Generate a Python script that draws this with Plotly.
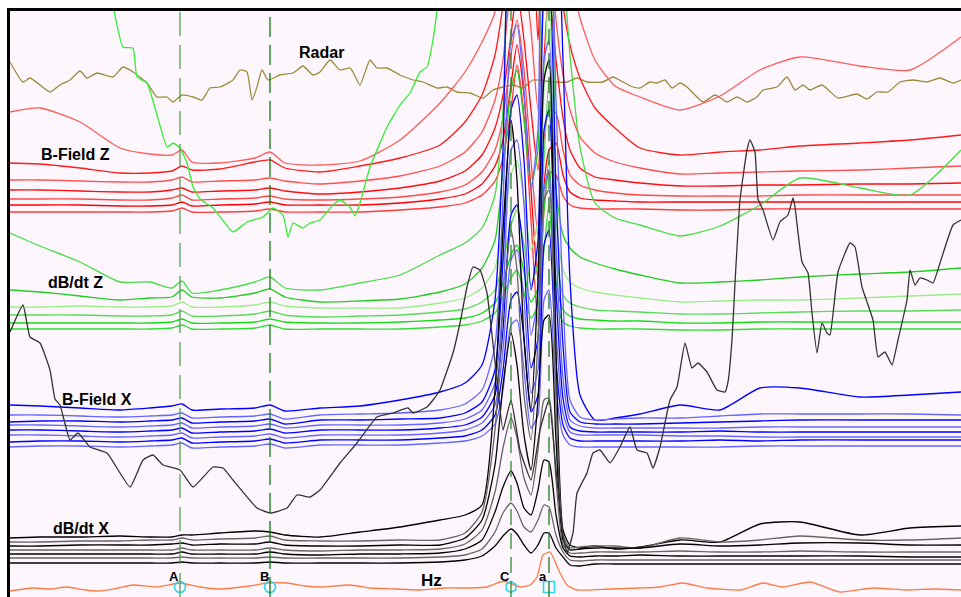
import plotly.graph_objects as go

# ---------------------------------------------------------------
# Stacked EM profile display: stations along the line (x) and
# channel responses plotted as offset traces (y, increasing downward)
# ---------------------------------------------------------------

# common station grid for the multi-channel groups
station = [10, 40, 80, 120, 150, 172, 182, 192, 220, 255, 270, 285, 320, 360, 400,
           440, 465, 482, 495, 503, 511, 517, 524, 531, 538, 544, 549, 556, 563, 570,
           580, 595, 615, 640, 680, 720, 760, 800, 860, 910, 961]

# B-Field Z (7 channels)
bz_ch1 = [112, 108, 122, 148, 154, 155, 150, 162, 163, 158, 152, 163, 165, 161, 140,
          103, 72, 42, 12, -60, -60, -60, -60, -60, -20, -60, -60, -60, -60, -30,
          18, 60, 86, 97, 110, 96, 70, 57, 66, 70, 37]
bz_ch2 = [163, 164, 168, 173, 173, 171, 166, 170, 169, 162, 160, 168, 172, 166, 158,
          145, 122, 95, 55, 5, -60, -60, -60, -60, 40, -60, -60, -60, 5, 45,
          78, 108, 128, 148, 155, 152, 150, 146, 143, 140, 135]
bz_ch3 = [180, 180, 181, 182, 182, 180, 177, 182, 181, 180, 178, 181, 184, 181, 176,
          166, 152, 132, 100, 60, -20, -60, -30, 30, 110, -20, -60, 20, 75, 110,
          137, 153, 162, 168, 174, 173, 172, 171, 170, 168, 166]
bz_ch4 = [190, 190, 191, 192, 192, 190, 188, 192, 191, 190, 188, 191, 194, 192, 188,
          181, 171, 155, 128, 95, 35, -10, 40, 110, 170, 60, -10, 60, 118, 150,
          168, 177, 180, 183, 186, 186, 185, 185, 184, 184, 183]
bz_ch5 = [199, 199, 199, 200, 200, 198, 195, 200, 199, 198, 196, 199, 200, 199, 197,
          192, 185, 172, 150, 118, 55, 20, 70, 160, 235, 140, 110, 113, 150, 175,
          185, 190, 193, 195, 196, 196, 196, 195, 195, 195, 195]
bz_ch6 = [205, 205, 205, 206, 206, 205, 202, 206, 205, 204, 202, 205, 205, 205, 203,
          199, 194, 184, 166, 140, 85, 45, 95, 190, 280, 185, 150, 143, 175, 192,
          198, 200, 201, 202, 202, 202, 202, 202, 202, 202, 202]
bz_ch7 = [212, 212, 212, 212, 212, 211, 208, 212, 212, 211, 209, 212, 212, 212, 210,
          207, 203, 195, 181, 158, 110, 65, 115, 220, 325, 210, 172, 175, 196, 205,
          208, 209, 209, 209, 210, 210, 209, 209, 209, 209, 209]

# dB/dt Z (6 channels)
dz_ch1 = [233, 246, 262, 282, 282, 288, 281, 293, 290, 282, 277, 288, 290, 283, 275,
          255, 243, 228, 195, 110, -60, -60, -60, -60, -60, -60, -60, -60, -30, 55,
          147, 203, 218, 225, 236, 226, 205, 178, 188, 195, 150]
dz_ch2 = [290, 292, 296, 300, 298, 297, 290, 297, 298, 293, 289, 297, 302, 301, 299,
          292, 284, 268, 240, 170, 90, 70, 120, 185, 150, -60, -60, 190, 235, 248,
          257, 263, 269, 275, 283, 282, 280, 277, 274, 272, 268]
dz_ch3 = [307, 307, 306, 307, 307, 306, 302, 307, 307, 305, 302, 306, 308, 308, 308,
          303, 298, 288, 268, 225, 175, 160, 200, 250, 220, 90, -20, 220, 270, 282,
          288, 292, 295, 298, 302, 301, 300, 300, 298, 296, 294]
dz_ch4 = [315, 315, 315, 316, 316, 315, 311, 316, 316, 314, 311, 315, 317, 316, 315,
          312, 309, 302, 290, 262, 225, 210, 245, 285, 262, 160, 80, 250, 295, 303,
          307, 310, 311, 312, 314, 314, 313, 312, 311, 311, 310]
dz_ch5 = [323, 323, 323, 323, 323, 322, 319, 323, 323, 322, 319, 322, 323, 323, 322,
          320, 318, 313, 303, 283, 255, 245, 272, 302, 288, 210, 160, 282, 310, 316,
          319, 320, 321, 321, 323, 323, 322, 322, 322, 322, 322]
dz_ch6 = [329, 329, 329, 329, 329, 328, 325, 329, 329, 328, 325, 329, 329, 329, 329,
          327, 325, 321, 313, 297, 278, 270, 292, 318, 305, 250, 205, 300, 322, 326,
          328, 329, 329, 329, 330, 330, 329, 329, 329, 329, 329]

# B-Field X (8 channels)
bx_ch1 = [405, 406, 408, 410, 408, 406, 404, 410, 409, 408, 405, 411, 408, 406, 400,
          392, 383, 365, 300, 150, -60, -60, -60, -20, -60, -60, -60, -60, 60, 280,
          395, 420, 418, 414, 405, 410, 388, 388, 397, 395, 392]
bx_ch2 = [415, 415, 416, 417, 416, 415, 413, 418, 417, 416, 414, 419, 415, 414, 413,
          410, 404, 390, 345, 200, 40, 25, 90, 190, 130, -60, -60, 100, 300, 400,
          417, 420, 419, 418, 418, 416, 414, 414, 414, 414, 415]
bx_ch3 = [422, 421, 421, 422, 421, 420, 418, 423, 422, 421, 419, 424, 420, 420, 419,
          418, 413, 402, 370, 260, 110, 95, 160, 290, 240, -10, -30, 190, 345, 412,
          422, 424, 424, 424, 423, 422, 421, 420, 420, 420, 420]
bx_ch4 = [425, 425, 426, 427, 426, 425, 423, 428, 427, 426, 424, 428, 425, 425, 425,
          423, 419, 410, 383, 300, 150, 140, 205, 335, 295, 60, 40, 245, 378, 420,
          426, 428, 428, 428, 428, 428, 427, 427, 427, 427, 427]
bx_ch5 = [430, 430, 431, 432, 431, 430, 428, 433, 432, 431, 429, 433, 430, 430, 430,
          428, 425, 417, 395, 330, 215, 205, 260, 368, 338, 130, 110, 290, 398, 427,
          431, 432, 432, 432, 432, 431, 432, 432, 432, 432, 432]
bx_ch6 = [435, 435, 436, 437, 436, 435, 433, 438, 437, 436, 434, 438, 435, 435, 435,
          433, 430, 423, 405, 350, 260, 250, 300, 393, 370, 190, 170, 330, 413, 432,
          435, 435, 435, 435, 436, 436, 437, 437, 437, 437, 437]
bx_ch7 = [442, 441, 441, 442, 441, 440, 438, 443, 442, 441, 439, 443, 440, 440, 440,
          438, 436, 430, 415, 370, 300, 292, 338, 412, 395, 245, 230, 362, 425, 438,
          441, 441, 441, 441, 441, 440, 441, 440, 440, 440, 440]
bx_ch8 = [447, 446, 446, 447, 446, 445, 443, 448, 447, 446, 444, 448, 445, 445, 445,
          443, 441, 436, 424, 390, 325, 320, 370, 428, 415, 300, 290, 390, 435, 445,
          447, 447, 447, 447, 447, 447, 446, 446, 446, 446, 446]

# dB/dt X (7 channels)
dx_ch1 = [538, 537, 537, 536, 537, 537, 535, 535, 533, 531, 532, 535, 537, 532, 527,
          520, 515, 505, 390, 230, 120, 180, 340, 410, 280, 80, 60, 350, 530, 545,
          548, 546, 549, 547, 540, 542, 524, 522, 535, 528, 526]
dx_ch2 = [542, 542, 541, 541, 540, 540, 538, 540, 539, 538, 536, 540, 541, 541, 540,
          540, 533, 512, 430, 310, 230, 270, 395, 440, 340, 200, 190, 400, 535, 548,
          547, 546, 546, 548, 538, 542, 540, 536, 540, 540, 538]
dx_ch3 = [546, 546, 545, 545, 545, 544, 543, 545, 544, 544, 542, 545, 546, 546, 545,
          545, 538, 520, 465, 385, 333, 365, 435, 470, 400, 320, 315, 440, 540, 550,
          549, 548, 548, 548, 544, 546, 545, 543, 543, 545, 545]
dx_ch4 = [550, 550, 550, 550, 550, 550, 548, 550, 550, 550, 548, 550, 551, 550, 550,
          549, 544, 530, 492, 448, 418, 438, 478, 495, 450, 400, 398, 480, 545, 553,
          553, 552, 552, 552, 551, 552, 552, 551, 552, 552, 552]
dx_ch5 = [554, 554, 554, 554, 554, 554, 552, 554, 554, 554, 552, 554, 555, 554, 554,
          553, 549, 540, 512, 487, 471, 483, 508, 515, 490, 460, 462, 515, 548, 556,
          557, 556, 556, 555, 556, 556, 556, 556, 556, 557, 557]
dx_ch6 = [558, 558, 558, 558, 558, 558, 557, 558, 558, 558, 557, 558, 558, 558, 558,
          557, 555, 549, 532, 513, 503, 511, 527, 532, 520, 505, 507, 535, 552, 560,
          561, 560, 560, 560, 560, 560, 560, 560, 560, 560, 560]
dx_ch7 = [563, 563, 563, 563, 563, 563, 562, 563, 563, 563, 562, 563, 563, 563, 563,
          562, 560, 556, 546, 536, 529, 534, 545, 553, 545, 533, 533, 548, 557, 565,
          566, 564, 564, 564, 564, 564, 564, 564, 564, 564, 564]

# high-amplitude dB/dt Z channel (own stations)
dz_hi_x = [111, 123, 133, 137, 147, 157, 167, 173, 180, 187, 193, 200, 213, 233, 247,
           263, 273, 283, 288, 293, 303, 310, 320, 333, 340, 350, 355, 360, 370, 380,
           387, 400, 410, 420, 427, 433, 439]
dz_hi_y = [-5, 47, 48, 77, 83, 115, 147, 143, 148, 163, 187, 199, 208, 232, 222,
           217, 208, 215, 237, 223, 228, 223, 220, 205, 200, 207, 216, 203, 167, 143,
           127, 105, 93, 72, 67, 40, -5]

# high-amplitude B-Field X channel (own stations)
bx_hi_x = [10, 23, 30, 40, 50, 55, 60, 70, 78, 90, 107, 130, 143, 153, 163, 180, 193,
           213, 223, 233, 257, 270, 287, 297, 310, 320, 340, 357, 377, 393, 408, 413,
           427, 433, 440, 453, 460, 467, 473, 480, 487, 490, 497, 503, 511, 520, 531,
           540, 549, 556, 563, 567, 573, 577, 587, 593, 600, 610, 620, 630, 637, 647,
           653, 660, 670, 677, 685, 692, 698, 707, 717, 725, 728, 732, 735, 740, 747,
           750, 755, 758, 763, 773, 780, 788, 793, 795, 802, 808, 812, 817, 822, 827,
           830, 838, 850, 855, 862, 873, 878, 885, 892, 898, 907, 910, 915, 920, 927,
           933, 940, 953, 961]
bx_hi_y = [332, 305, 337, 343, 370, 399, 405, 440, 433, 447, 453, 487, 460, 455, 465,
           470, 487, 467, 468, 480, 508, 513, 508, 495, 497, 490, 463, 443, 417, 413,
           408, 413, 407, 400, 390, 353, 323, 287, 267, 270, 293, 317, 380, 430, 400,
           450, 480, 430, 400, 470, 535, 553, 533, 493, 473, 453, 450, 463, 447, 427,
           450, 453, 468, 447, 400, 387, 343, 368, 363, 372, 390, 392, 382, 340, 283,
           200, 150, 140, 152, 199, 210, 240, 222, 215, 198, 207, 262, 273, 313, 353,
           323, 333, 335, 272, 243, 247, 287, 320, 357, 352, 365, 340, 300, 270, 285,
           278, 280, 283, 263, 225, 220]

# Radar
radar_x = [10, 23, 30, 40, 50, 60, 70, 80, 87, 97, 113, 123, 133, 147, 157, 167, 173,
           182, 193, 202, 210, 220, 233, 240, 247, 252, 257, 262, 268, 280, 293, 303,
           313, 320, 330, 340, 350, 353, 360, 370, 377, 387, 400, 413, 423, 437, 447,
           457, 470, 483, 493, 503, 513, 523, 533, 553, 567, 577, 587, 603, 613, 623,
           633, 640, 650, 657, 665, 672, 680, 687, 703, 715, 727, 737, 747, 757, 763,
           777, 787, 795, 803, 810, 822, 838, 857, 867, 877, 888, 900, 913, 927, 940,
           953, 961]
radar_y = [62, 82, 78, 85, 92, 85, 80, 71, 78, 73, 77, 67, 72, 83, 97, 97, 102,
           95, 97, 100, 88, 87, 80, 70, 72, 100, 87, 70, 80, 75, 73, 66,
           75, 72, 60, 70, 68, 72, 85, 60, 68, 68, 75, 80, 82, 88, 87,
           92, 93, 98, 90, 87, 85, 88, 80, 82, 82, 78, 82, 82, 77, 82,
           87, 88, 82, 83, 80, 88, 83, 87, 102, 95, 102, 97, 102, 97, 90,
           87, 77, 90, 85, 90, 85, 98, 94, 99, 92, 92, 82, 80, 82, 78,
           83, 80]

# Hz
hz_x = [10, 33, 50, 67, 85, 100, 118, 133, 157, 180, 200, 218, 233, 250, 267, 287,
        305, 320, 350, 370, 395, 420, 445, 470, 487, 500, 507, 520, 530, 537, 543,
        550, 553, 560, 567, 577, 610, 640, 660, 683, 707, 740, 763, 783, 810, 840,
        873, 907, 935, 961]
hz_y = [591, 588, 589, 587, 590, 591, 588, 585, 587, 583, 587, 589, 588, 586, 583, 583,
        586, 587, 585, 588, 589, 590, 588, 588, 587, 582, 582, 587, 585, 577, 555,
        552, 557, 573, 585, 590, 589, 588, 587, 583, 588, 590, 583, 587, 582, 592,
        588, 590, 589, 590]

# picks along the line
pick_station = [180, 270, 511, 549]
pick_label = ["A", "B", "C", "a"]
pick_symbol = ["circle-open", "circle-open", "hexagon-open", "square-open"]
pick_color = ["#55a055", "#117711", "#338833", "#227722"]
pick_dash = ["24px,9px", "20px,8px", "16px,8px", "16px,8px"]

red_shades = ["#ff5c5c", "#ff1a1a", "#ff5050", "#ff0d0d", "#ff4848", "#ff0000", "#ff3a3a"]
green_shades = ["#44dd44", "#22cc22", "#99ee88", "#55dd55", "#11dd11", "#33dd33"]
blue_shades = ["#0000ff", "#6666ff"]
black_shades = ["#000000", "#666666"]

LABEL_FONT = "Arial, Liberation Sans"

fig = go.Figure()


def add_line(x, y, color, width=1.3, smooth=None):
    line = dict(color=color, width=width)
    if smooth:
        line.update(shape="spline", smoothing=smooth)
    fig.add_trace(go.Scatter(x=x, y=y, mode="lines", hoverinfo="skip",
                             line=line, showlegend=False))


add_line(radar_x, radar_y, "#9c8b3c", smooth=0.5)
for i, ch in enumerate([bz_ch1, bz_ch2, bz_ch3, bz_ch4, bz_ch5, bz_ch6, bz_ch7]):
    add_line(station, ch, red_shades[i], smooth=0.6)
for i, ch in enumerate([dz_ch1, dz_ch2, dz_ch3, dz_ch4, dz_ch5, dz_ch6]):
    add_line(station, ch, green_shades[i], smooth=0.6)
add_line(dz_hi_x, dz_hi_y, "#33ee33", smooth=0.4)
for i, ch in enumerate([bx_ch1, bx_ch2, bx_ch3, bx_ch4, bx_ch5, bx_ch6, bx_ch7, bx_ch8]):
    add_line(station, ch, blue_shades[i % 2], smooth=0.6)
for i, ch in enumerate([dx_ch1, dx_ch2, dx_ch3, dx_ch4, dx_ch5, dx_ch6, dx_ch7]):
    add_line(station, ch, black_shades[i % 2], smooth=0.6)
add_line(bx_hi_x, bx_hi_y, "#333333", smooth=0.4)
add_line(hz_x, hz_y, "#ff7a45", smooth=0.5)

# pick lines, symbols and letters
for s, lab, col, dash in zip(pick_station, pick_label, pick_color, pick_dash):
    fig.add_vline(x=s, line=dict(color=col, width=1.3, dash=dash))
    fig.add_annotation(x=s, y=576, text=lab, showarrow=False, xshift=-6,
                       font=dict(family=LABEL_FONT, size=13, color="black", weight="bold"))

fig.add_trace(go.Scatter(x=pick_station, y=[587] * len(pick_station), mode="markers",
                         hoverinfo="skip", showlegend=False,
                         marker=dict(symbol=pick_symbol, size=11,
                                     line=dict(color="#33d6ee", width=1.6),
                                     color="#33d6ee")))

group_labels = [("Radar", 321, 52), ("B-Field Z", 75, 154), ("dB/dt Z", 75, 282),
                ("B-Field X", 97, 399), ("dB/dt X", 81, 528)]
for txt, gx, gy in group_labels:
    fig.add_annotation(x=gx, y=gy, text=txt, showarrow=False,
                       font=dict(family=LABEL_FONT, size=16, color="black", weight="bold"))
fig.add_annotation(x=431, y=580, text="Hz", showarrow=False,
                   font=dict(family=LABEL_FONT, size=17, color="black", weight="bold"))

fig.update_layout(
    width=961, height=597,
    margin=dict(l=10, r=0, t=11, b=0),
    paper_bgcolor="white",
    plot_bgcolor="#fdf7fd",
    xaxis=dict(range=[10, 961], showgrid=False, zeroline=False, showticklabels=False,
               ticks="", showline=True, linecolor="black", linewidth=3, side="top"),
    yaxis=dict(range=[597, 11], showgrid=False, zeroline=False, showticklabels=False,
               ticks="", showline=True, linecolor="black", linewidth=3),
)

fig.write_html("out.html")
